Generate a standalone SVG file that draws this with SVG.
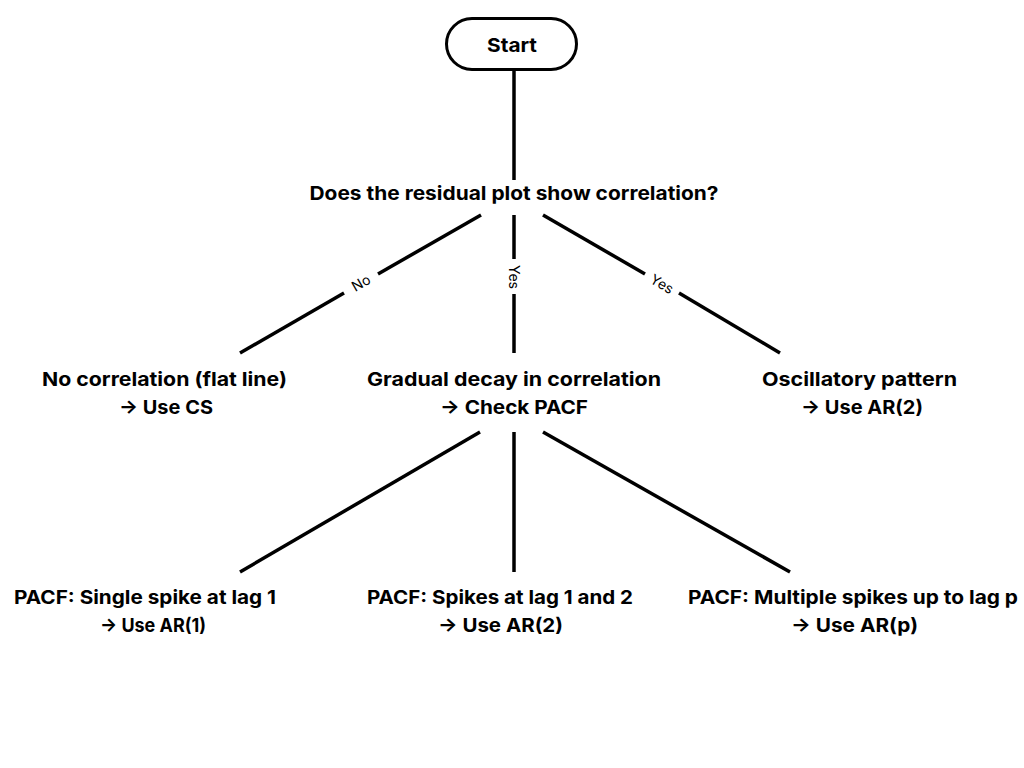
<svg xmlns="http://www.w3.org/2000/svg" width="1024" height="768" viewBox="0 0 1024 768">
<style>
.t{font-family:Inter,"Open Sans","Liberation Sans",sans-serif;font-weight:700;font-size:19px;fill:#000;text-anchor:middle}
.l{font-family:Inter,"Open Sans","Liberation Sans",sans-serif;font-weight:400;font-size:14px;fill:#000;text-anchor:middle}
.c{stroke:#000;stroke-width:3.5;fill:none}
</style>
<rect width="1024" height="768" fill="#fff"/>
<g id="connectors">
<line class="c" x1="514" y1="70" x2="514" y2="180"/>
<line class="c" x1="481" y1="215" x2="378" y2="274"/>
<line class="c" x1="344" y1="293" x2="240" y2="353"/>
<line class="c" x1="514" y1="215" x2="514" y2="259"/>
<line class="c" x1="514" y1="294" x2="514" y2="353"/>
<line class="c" x1="543" y1="215" x2="645" y2="274"/>
<line class="c" x1="679" y1="293" x2="780" y2="353"/>
<line class="c" x1="480" y1="432" x2="240" y2="572"/>
<line class="c" x1="514" y1="432" x2="514" y2="572"/>
<line class="c" x1="543" y1="432" x2="790" y2="572"/>
<text class="l" transform="translate(361,283) rotate(-30)" dy="5">No</text>
<text class="l" transform="translate(514,277) rotate(90)" dy="5">Yes</text>
<text class="l" transform="translate(662,284) rotate(30)" dy="5">Yes</text>
</g>
<g id="start">
<rect x="446.5" y="18.5" width="130" height="51" rx="25.5" fill="#fff" stroke="#000" stroke-width="3"/>
<text class="t" x="512" y="51.5" textLength="50" lengthAdjust="spacingAndGlyphs">Start</text>
</g>
<g id="question">
<text class="t" x="514" y="200" textLength="409" lengthAdjust="spacingAndGlyphs">Does the residual plot show correlation?</text>
</g>
<g id="no-correlation">
<text class="t" x="164.5" y="386" textLength="245" lengthAdjust="spacingAndGlyphs">No correlation (flat line)</text>
<text class="t" x="166" y="414" textLength="94" lengthAdjust="spacingAndGlyphs">→ Use CS</text>
</g>
<g id="gradual-decay">
<text class="t" x="514" y="386" textLength="294" lengthAdjust="spacingAndGlyphs">Gradual decay in correlation</text>
<text class="t" x="514" y="414" textLength="148" lengthAdjust="spacingAndGlyphs">→ Check PACF</text>
</g>
<g id="oscillatory">
<text class="t" x="859.5" y="386" textLength="195" lengthAdjust="spacingAndGlyphs">Oscillatory pattern</text>
<text class="t" x="862" y="414" textLength="122" lengthAdjust="spacingAndGlyphs">→ Use AR(2)</text>
</g>
<g id="single-spike">
<text class="t" x="145" y="604" textLength="262" lengthAdjust="spacingAndGlyphs">PACF: Single spike at lag 1</text>
<text class="t" x="153" y="632" textLength="106" lengthAdjust="spacingAndGlyphs">→ Use AR(1)</text>
</g>
<g id="two-spikes">
<text class="t" x="500" y="604" textLength="266" lengthAdjust="spacingAndGlyphs">PACF: Spikes at lag 1 and 2</text>
<text class="t" x="500.5" y="632" textLength="125" lengthAdjust="spacingAndGlyphs">→ Use AR(2)</text>
</g>
<g id="multiple-spikes">
<text class="t" x="853" y="604" textLength="330" lengthAdjust="spacingAndGlyphs">PACF: Multiple spikes up to lag p</text>
<text class="t" x="854.5" y="632" textLength="127" lengthAdjust="spacingAndGlyphs">→ Use AR(p)</text>
</g>
</svg>
